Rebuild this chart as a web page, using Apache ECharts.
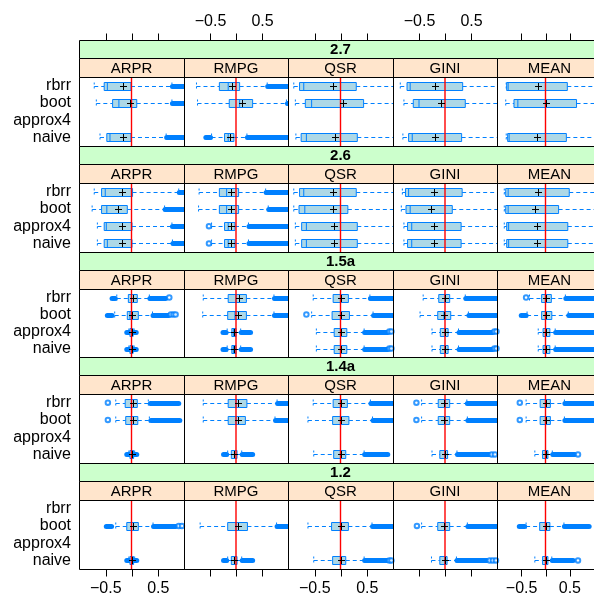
<!DOCTYPE html>
<html>
<head>
<meta charset="utf-8">
<script src="https://cdn.jsdelivr.net/npm/echarts@6/dist/echarts.min.js"></script>
<style>
  html, body { margin: 0; padding: 0; background: #fff; }
  #chart { width: 594px; height: 599px; }
</style>
</head>
<body>
<div id="chart"></div>
<script>
// Relative error of the estimators, by scenario (rows) and indicator (columns)
const methods = ['rbrr', 'boot', 'approx4', 'naive'];
const measures = ['ARPR', 'RMPG', 'QSR', 'GINI', 'MEAN'];
const levels = ['2.7', '2.6', '1.5a', '1.4a', '1.2'];
const tickValues = [-0.5, 0, 0.5];
const tickLabels = [-0.5, 0.5];
const refValue = 0;

// [indicator, method, lower whisker, Q1, median, Q3, upper whisker, mean]
const stats27 = [
  ['ARPR', 'rbrr', -0.71, -0.52, -0.46, -0.01, 0.77, -0.16],
  ['ARPR', 'boot', -0.67, -0.36, -0.24, 0.10, 0.77, -0.03],
  ['ARPR', 'naive', -0.60, -0.47, -0.41, -0.01, 0.66, -0.17],
  ['RMPG', 'rbrr', -0.76, -0.32, -0.15, 0.07, 0.60, -0.07],
  ['RMPG', 'boot', -0.74, -0.13, 0.07, 0.32, 0.97, 0.12],
  ['RMPG', 'naive', -0.47, -0.22, -0.15, -0.04, 0.21, -0.11],
  ['QSR', 'rbrr', -0.89, -0.78, -0.70, 0.30, 1.05, -0.14],
  ['QSR', 'boot', -0.86, -0.67, -0.55, 0.44, 1.05, 0.04],
  ['QSR', 'naive', -0.85, -0.75, -0.65, 0.32, 1.05, -0.11],
  ['GINI', 'rbrr', -0.86, -0.73, -0.67, 0.34, 1.05, -0.20],
  ['GINI', 'boot', -0.79, -0.61, -0.50, 0.39, 1.05, -0.07],
  ['GINI', 'naive', -0.81, -0.70, -0.63, 0.32, 1.05, -0.19],
  ['MEAN', 'rbrr', -0.81, -0.80, -0.77, 0.45, 1.05, -0.15],
  ['MEAN', 'boot', -0.82, -0.65, -0.57, 0.64, 1.05, 0.01],
  ['MEAN', 'naive', -0.81, -0.78, -0.75, 0.43, 1.05, -0.17]
];
const stats26 = [
  ['ARPR', 'rbrr', -0.71, -0.57, -0.50, 0.02, 0.90, -0.18],
  ['ARPR', 'boot', -0.75, -0.57, -0.47, -0.08, 0.63, -0.25],
  ['ARPR', 'approx4', -0.65, -0.52, -0.48, 0.01, 0.77, -0.19],
  ['ARPR', 'naive', -0.65, -0.52, -0.46, 0.01, 0.78, -0.19],
  ['RMPG', 'rbrr', -0.71, -0.32, -0.18, 0.05, 0.57, -0.09],
  ['RMPG', 'boot', -0.72, -0.32, -0.18, 0.05, 0.62, -0.09],
  ['RMPG', 'approx4', -0.47, -0.22, -0.15, -0.02, 0.24, -0.09],
  ['RMPG', 'naive', -0.47, -0.22, -0.15, -0.02, 0.24, -0.10],
  ['QSR', 'rbrr', -0.89, -0.78, -0.70, 0.30, 1.05, -0.14],
  ['QSR', 'boot', -0.89, -0.79, -0.68, 0.14, 1.05, -0.14],
  ['QSR', 'approx4', -0.86, -0.74, -0.65, 0.32, 1.05, -0.13],
  ['QSR', 'naive', -0.86, -0.74, -0.65, 0.32, 1.05, -0.13],
  ['GINI', 'rbrr', -0.82, -0.76, -0.70, 0.33, 1.05, -0.21],
  ['GINI', 'boot', -0.84, -0.75, -0.67, 0.14, 1.05, -0.27],
  ['GINI', 'approx4', -0.79, -0.72, -0.64, 0.31, 1.05, -0.21],
  ['GINI', 'naive', -0.79, -0.72, -0.64, 0.31, 1.05, -0.21],
  ['MEAN', 'rbrr', -0.85, -0.82, -0.77, 0.49, 1.05, -0.15],
  ['MEAN', 'boot', -0.85, -0.82, -0.77, 0.27, 1.05, -0.22],
  ['MEAN', 'approx4', -0.85, -0.80, -0.76, 0.46, 1.05, -0.17],
  ['MEAN', 'naive', -0.85, -0.80, -0.76, 0.46, 1.05, -0.17]
];
const stats15a = [
  ['ARPR', 'rbrr', -0.28, -0.06, 0.00, 0.11, 0.34, 0.03],
  ['ARPR', 'boot', -0.32, -0.08, -0.03, 0.13, 0.40, 0.00],
  ['ARPR', 'approx4', -0.05, -0.03, 0.00, 0.03, 0.05, 0.00],
  ['ARPR', 'naive', -0.05, -0.03, 0.00, 0.03, 0.05, 0.00],
  ['RMPG', 'rbrr', -0.63, -0.15, 0.00, 0.20, 0.73, 0.05],
  ['RMPG', 'boot', -0.64, -0.16, -0.02, 0.20, 0.73, 0.03],
  ['RMPG', 'approx4', -0.17, -0.08, -0.05, 0.00, 0.09, -0.03],
  ['RMPG', 'naive', -0.17, -0.08, -0.05, 0.00, 0.09, -0.03],
  ['QSR', 'rbrr', -0.52, -0.14, 0.00, 0.15, 0.56, 0.00],
  ['QSR', 'boot', -0.55, -0.16, 0.00, 0.17, 0.62, 0.00],
  ['QSR', 'approx4', -0.46, -0.12, 0.00, 0.12, 0.45, 0.00],
  ['QSR', 'naive', -0.46, -0.12, 0.00, 0.12, 0.45, 0.00],
  ['GINI', 'rbrr', -0.42, -0.12, 0.00, 0.09, 0.39, 0.00],
  ['GINI', 'boot', -0.48, -0.14, -0.02, 0.11, 0.45, -0.02],
  ['GINI', 'approx4', -0.25, -0.09, 0.00, 0.06, 0.26, 0.00],
  ['GINI', 'naive', -0.25, -0.09, 0.00, 0.06, 0.26, 0.00],
  ['MEAN', 'rbrr', -0.33, -0.08, 0.02, 0.12, 0.41, 0.02],
  ['MEAN', 'boot', -0.38, -0.08, 0.02, 0.13, 0.47, 0.02],
  ['MEAN', 'approx4', -0.15, -0.05, 0.02, 0.09, 0.20, 0.02],
  ['MEAN', 'naive', -0.15, -0.05, 0.02, 0.09, 0.20, 0.02]
];
const stats14a = [
  ['ARPR', 'rbrr', -0.30, -0.12, 0.00, 0.11, 0.32, 0.02],
  ['ARPR', 'boot', -0.30, -0.11, 0.00, 0.12, 0.34, 0.02],
  ['ARPR', 'naive', -0.05, -0.03, 0.00, 0.04, 0.06, 0.00],
  ['RMPG', 'rbrr', -0.63, -0.15, 0.00, 0.21, 0.79, 0.04],
  ['RMPG', 'boot', -0.63, -0.15, 0.00, 0.18, 0.75, 0.03],
  ['RMPG', 'naive', -0.16, -0.09, -0.03, 0.02, 0.11, -0.03],
  ['QSR', 'rbrr', -0.52, -0.14, 0.00, 0.13, 0.57, 0.00],
  ['QSR', 'boot', -0.62, -0.15, 0.00, 0.16, 0.61, 0.00],
  ['QSR', 'naive', -0.51, -0.13, 0.00, 0.10, 0.45, 0.00],
  ['GINI', 'rbrr', -0.45, -0.13, 0.00, 0.09, 0.42, -0.01],
  ['GINI', 'boot', -0.45, -0.13, 0.00, 0.09, 0.43, -0.01],
  ['GINI', 'naive', -0.25, -0.10, 0.00, 0.05, 0.23, 0.00],
  ['MEAN', 'rbrr', -0.40, -0.11, 0.00, 0.10, 0.39, 0.00],
  ['MEAN', 'boot', -0.40, -0.11, 0.00, 0.10, 0.39, 0.00],
  ['MEAN', 'naive', -0.22, -0.06, 0.00, 0.05, 0.14, 0.00]
];
const stats12 = [
  ['ARPR', 'boot', -0.30, -0.09, 0.00, 0.13, 0.41, 0.03],
  ['ARPR', 'naive', -0.05, -0.03, 0.00, 0.04, 0.06, 0.00],
  ['RMPG', 'boot', -0.69, -0.16, 0.00, 0.22, 0.78, 0.03],
  ['RMPG', 'naive', -0.16, -0.09, -0.03, 0.02, 0.11, -0.03],
  ['QSR', 'boot', -0.62, -0.17, 0.00, 0.15, 0.60, 0.00],
  ['QSR', 'naive', -0.51, -0.15, 0.00, 0.10, 0.45, 0.00],
  ['GINI', 'boot', -0.45, -0.14, 0.00, 0.09, 0.43, -0.02],
  ['GINI', 'naive', -0.26, -0.10, 0.00, 0.04, 0.22, 0.00],
  ['MEAN', 'boot', -0.40, -0.12, 0.00, 0.09, 0.38, 0.00],
  ['MEAN', 'naive', -0.22, -0.06, 0.00, 0.05, 0.13, 0.00]
];

// Runs of outliers too dense to tell apart: [indicator, method, from, to]
const bands27 = [
  ['ARPR', 'rbrr', 0.78, 1.05], ['ARPR', 'boot', 0.78, 1.05], ['ARPR', 'naive', 0.67, 1.05],
  ['RMPG', 'rbrr', 0.61, 1.05], ['RMPG', 'boot', 0.99, 1.05],
  ['RMPG', 'naive', -0.58, -0.49], ['RMPG', 'naive', 0.22, 1.05]
];
const bands26 = [
  ['ARPR', 'rbrr', 0.91, 1.05], ['ARPR', 'boot', 0.64, 1.05],
  ['ARPR', 'approx4', 0.78, 1.05], ['ARPR', 'naive', 0.79, 1.05],
  ['RMPG', 'rbrr', 0.58, 1.05], ['RMPG', 'boot', 0.63, 1.05],
  ['RMPG', 'approx4', 0.25, 1.05], ['RMPG', 'naive', 0.25, 1.05]
];
const bands15a = [
  ['ARPR', 'rbrr', -0.37, -0.31], ['ARPR', 'rbrr', 0.35, 0.65],
  ['ARPR', 'boot', -0.46, -0.37], ['ARPR', 'boot', 0.41, 0.71],
  ['ARPR', 'approx4', -0.09, 0.09], ['ARPR', 'naive', -0.09, 0.09],
  ['RMPG', 'rbrr', 0.74, 1.05], ['RMPG', 'boot', 0.74, 1.05],
  ['RMPG', 'approx4', -0.25, -0.19], ['RMPG', 'approx4', 0.10, 0.28],
  ['RMPG', 'naive', -0.25, -0.19], ['RMPG', 'naive', 0.10, 0.28],
  ['QSR', 'rbrr', 0.57, 1.05], ['QSR', 'boot', 0.63, 1.05],
  ['QSR', 'approx4', 0.46, 0.90], ['QSR', 'naive', 0.46, 0.90],
  ['GINI', 'rbrr', 0.40, 1.05], ['GINI', 'boot', 0.46, 1.05],
  ['GINI', 'approx4', 0.27, 0.92], ['GINI', 'naive', 0.27, 0.92],
  ['MEAN', 'rbrr', 0.42, 1.05], ['MEAN', 'boot', -0.50, -0.40], ['MEAN', 'boot', 0.48, 1.05],
  ['MEAN', 'approx4', 0.21, 1.05], ['MEAN', 'naive', 0.21, 1.05]
];
const bands14a = [
  ['ARPR', 'rbrr', 0.36, 0.90], ['ARPR', 'boot', 0.37, 0.92], ['ARPR', 'naive', -0.09, 0.10],
  ['RMPG', 'rbrr', 0.80, 1.05], ['RMPG', 'boot', 0.76, 1.05],
  ['RMPG', 'naive', -0.24, -0.18], ['RMPG', 'naive', 0.12, 0.32],
  ['QSR', 'rbrr', 0.58, 1.05], ['QSR', 'boot', 0.62, 1.05], ['QSR', 'naive', 0.46, 0.90],
  ['GINI', 'rbrr', 0.43, 1.05], ['GINI', 'boot', 0.44, 1.05], ['GINI', 'naive', 0.24, 0.85],
  ['MEAN', 'rbrr', 0.40, 1.05], ['MEAN', 'boot', 0.40, 1.05], ['MEAN', 'naive', 0.15, 0.60]
];
const bands12 = [
  ['ARPR', 'boot', -0.48, -0.38], ['ARPR', 'boot', 0.42, 0.84], ['ARPR', 'naive', -0.09, 0.10],
  ['RMPG', 'boot', 0.79, 1.05], ['RMPG', 'naive', -0.24, -0.18], ['RMPG', 'naive', 0.12, 0.32],
  ['QSR', 'boot', 0.61, 1.05], ['QSR', 'naive', 0.46, 0.90],
  ['GINI', 'boot', 0.44, 1.05], ['GINI', 'naive', 0.23, 0.80],
  ['MEAN', 'boot', -0.54, -0.43], ['MEAN', 'boot', 0.39, 0.90], ['MEAN', 'naive', 0.14, 0.57]
];

// Isolated outliers: [indicator, method, value]
const points27 = [];
const points26 = [['RMPG', 'approx4', -0.52], ['RMPG', 'naive', -0.52]];
const points15a = [
  ['ARPR', 'rbrr', 0.72], ['ARPR', 'boot', 0.75], ['ARPR', 'boot', 0.80], ['ARPR', 'boot', 0.84],
  ['QSR', 'boot', -0.65], ['QSR', 'approx4', 0.93], ['QSR', 'approx4', 0.97],
  ['QSR', 'naive', 0.93], ['QSR', 'naive', 0.97],
  ['GINI', 'approx4', 0.95], ['GINI', 'approx4', 0.99], ['GINI', 'naive', 0.95], ['GINI', 'naive', 0.99],
  ['MEAN', 'rbrr', -0.40]
];
const points14a = [
  ['ARPR', 'rbrr', -0.45], ['ARPR', 'boot', -0.45],
  ['GINI', 'rbrr', -0.55], ['GINI', 'boot', -0.55], ['GINI', 'naive', 0.90], ['GINI', 'naive', 0.96],
  ['MEAN', 'rbrr', -0.53], ['MEAN', 'boot', -0.53], ['MEAN', 'naive', 0.67]
];
const points12 = [
  ['ARPR', 'boot', 0.90], ['ARPR', 'boot', 0.96],
  ['QSR', 'naive', 0.93], ['QSR', 'naive', 0.97],
  ['GINI', 'boot', -0.54], ['GINI', 'naive', 0.86], ['GINI', 'naive', 0.92], ['GINI', 'naive', 0.98],
  ['MEAN', 'naive', 0.67]
];

const statsByLevel = { '2.7': stats27, '2.6': stats26, '1.5a': stats15a, '1.4a': stats14a, '1.2': stats12 };
const bandsByLevel = { '2.7': bands27, '2.6': bands26, '1.5a': bands15a, '1.4a': bands14a, '1.2': bands12 };
const pointsByLevel = { '2.7': points27, '2.6': points26, '1.5a': points15a, '1.4a': points14a, '1.2': points12 };

// ---- layout and style ----
const FONT = '"Liberation Sans", Arial, Helvetica, sans-serif';
const BLUE = '#0080ff';
const FILL = '#add8e6';
const X0 = 79, COLW = 104.6, Y0 = 40, ROWH = 105.8, STRIP1 = 18, STRIP2 = 19;
const colLeft = c => Math.round(X0 + c * COLW);
const rowTop = r => Math.round(Y0 + r * ROWH);

function renderBox(params, api) {
  const m = api.value(0);
  const xs = [1, 2, 3, 4, 5].map(i => api.coord([api.value(i), m])[0]);
  const yc = Math.round(api.coord([0, m])[1]) + 0.5;
  const hb = 4, cap = 4;
  const dashed = { stroke: BLUE, lineWidth: 1, lineDash: [4, 3], fill: null };
  const capStyle = { stroke: BLUE, lineWidth: 1, lineDash: [2, 2], fill: null };
  return {
    type: 'group',
    children: [
      { type: 'line', shape: { x1: xs[0], y1: yc, x2: xs[1], y2: yc }, style: dashed },
      { type: 'line', shape: { x1: xs[3], y1: yc, x2: xs[4], y2: yc }, style: dashed },
      { type: 'line', shape: { x1: xs[0], y1: yc - cap, x2: xs[0], y2: yc + cap }, style: capStyle },
      { type: 'line', shape: { x1: xs[4], y1: yc - cap, x2: xs[4], y2: yc + cap }, style: capStyle },
      { type: 'rect', shape: { x: xs[1], y: yc - hb, width: xs[3] - xs[1], height: 2 * hb },
        style: { fill: FILL, stroke: BLUE, lineWidth: 1 } },
      { type: 'line', shape: { x1: xs[2], y1: yc - hb, x2: xs[2], y2: yc + hb },
        style: { stroke: BLUE, lineWidth: 1 } }
    ]
  };
}

function renderBand(params, api) {
  const m = api.value(0);
  const a = api.coord([api.value(1), m]);
  const b = api.coord([api.value(2), m]);
  const y = Math.round(a[1]) + 0.5;
  return {
    type: 'line',
    shape: { x1: a[0], y1: y, x2: b[0], y2: y },
    style: { stroke: BLUE, lineWidth: 5, lineCap: 'round' }
  };
}

function renderMean(params, api) {
  const p = api.coord([api.value(1), api.value(0)]);
  const x = Math.round(p[0]) + 0.5, y = Math.round(p[1]) + 0.5;
  const s = 3.5;
  return {
    type: 'group',
    children: [
      { type: 'line', shape: { x1: x - s, y1: y, x2: x + s, y2: y }, style: { stroke: '#000', lineWidth: 1 } },
      { type: 'line', shape: { x1: x, y1: y - s, x2: x, y2: y + s }, style: { stroke: '#000', lineWidth: 1 } }
    ]
  };
}

function renderRef(params, api) {
  const x = api.coord([api.value(0), 0])[0];
  const cs = params.coordSys;
  return {
    type: 'line',
    shape: { x1: x, y1: cs.y, x2: x, y2: cs.y + cs.height },
    style: { stroke: '#ff0000', lineWidth: 1.4 }
  };
}

const grids = [], xAxes = [], yAxes = [], series = [], graphics = [];

levels.forEach((lev, r) => {
  const top = rowTop(r);
  const left = colLeft(0), right = colLeft(measures.length);
  // outer strip with the scenario name
  graphics.push({
    type: 'rect', z: 5,
    shape: { x: left + 0.5, y: top + 0.5, width: right - left, height: STRIP1 },
    style: { fill: '#ccffcc', stroke: '#000', lineWidth: 1 }
  });
  graphics.push({
    type: 'text', z: 6,
    x: (left + right) / 2, y: top + STRIP1 / 2 + 1,
    style: { text: lev, font: 'bold 15px ' + FONT, fill: '#000',
             textAlign: 'center', textVerticalAlign: 'middle', verticalAlign: 'middle' }
  });

  measures.forEach((meas, c) => {
    const gl = colLeft(c), gr = colLeft(c + 1);
    const stripTop = top + STRIP1;
    const panelTop = stripTop + STRIP2;
    const panelBottom = rowTop(r + 1);
    // inner strip with the indicator name
    graphics.push({
      type: 'rect', z: 5,
      shape: { x: gl + 0.5, y: stripTop + 0.5, width: gr - gl, height: STRIP2 },
      style: { fill: '#ffe5cc', stroke: '#000', lineWidth: 1 }
    });
    graphics.push({
      type: 'text', z: 6,
      x: (gl + gr) / 2, y: stripTop + STRIP2 / 2 + 1,
      style: { text: meas, font: '15px ' + FONT, fill: '#000',
               textAlign: 'center', textVerticalAlign: 'middle', verticalAlign: 'middle' }
    });
    // panel frame
    graphics.push({
      type: 'rect', z: 50, silent: true,
      shape: { x: gl + 0.5, y: panelTop + 0.5, width: gr - gl, height: panelBottom - panelTop },
      style: { fill: null, stroke: '#000', lineWidth: 1 }
    });

    const gi = grids.length;
    grids.push({ left: gl, top: panelTop, width: gr - gl, height: panelBottom - panelTop, show: false });
    xAxes.push({ gridIndex: gi, type: 'value', min: -1, max: 1, show: false });
    yAxes.push({
      gridIndex: gi, type: 'category', data: methods, inverse: true,
      axisLine: { show: false }, axisTick: { show: false }, splitLine: { show: false },
      axisLabel: { show: c === 0, interval: 0, fontSize: 16, fontFamily: FONT, color: '#000', margin: 8 }
    });

    const mi = name => methods.indexOf(name);
    const stats = statsByLevel[lev].filter(d => d[0] === meas);
    const bands = bandsByLevel[lev].filter(d => d[0] === meas);
    const pts = pointsByLevel[lev].filter(d => d[0] === meas);

    series.push({
      type: 'custom', xAxisIndex: gi, yAxisIndex: gi, clip: true, z: 2,
      renderItem: renderBand, encode: { x: [1, 2], y: 0 },
      data: bands.map(d => [mi(d[1]), d[2], d[3]])
    });
    series.push({
      type: 'scatter', xAxisIndex: gi, yAxisIndex: gi, clip: true, z: 2,
      symbol: 'emptyCircle', symbolSize: 4.5,
      itemStyle: { color: BLUE, borderColor: BLUE, borderWidth: 1 },
      data: pts.map(d => [d[2], mi(d[1])])
    });
    series.push({
      type: 'custom', xAxisIndex: gi, yAxisIndex: gi, clip: true, z: 3,
      renderItem: renderBox, encode: { x: [1, 2, 3, 4, 5], y: 0 },
      data: stats.map(d => [mi(d[1]), d[2], d[3], d[4], d[5], d[6]])
    });
    series.push({
      type: 'custom', xAxisIndex: gi, yAxisIndex: gi, clip: true, z: 4,
      renderItem: renderRef, encode: { x: 0, y: 1 },
      data: [[refValue, 0]]
    });
    series.push({
      type: 'custom', xAxisIndex: gi, yAxisIndex: gi, clip: true, z: 5,
      renderItem: renderMean, encode: { x: 1, y: 0 },
      data: stats.map(d => [mi(d[1]), d[7]])
    });
  });
});

// shared scales along the top and bottom of every column
const fmt = v => (v < 0 ? '\u2212' : '') + Math.abs(v).toFixed(1);
measures.forEach((meas, c) => {
  const gi = grids.length;
  const gl = colLeft(c), gr = colLeft(c + 1);
  grids.push({ left: gl + 0.5, top: rowTop(0) + 0.5, width: gr - gl, height: rowTop(levels.length) - rowTop(0), show: false });
  ['bottom', 'top'].forEach((pos, k) => {
    xAxes.push({
      gridIndex: gi, type: 'value', position: pos, min: -1, max: 1,
      axisLine: { show: false }, splitLine: { show: false },
      axisTick: { show: true, inside: false, length: 7, customValues: tickValues,
                  lineStyle: { color: '#000', width: 1 } },
      axisLabel: { show: (c % 2 === 0) === (k === 0), customValues: tickLabels, formatter: fmt,
                   fontSize: 16, fontFamily: FONT, color: '#000', margin: 11 }
    });
  });
  yAxes.push({ gridIndex: gi, type: 'value', show: false });
});

const chart = echarts.init(document.getElementById('chart'), null, { renderer: 'canvas' });
chart.setOption({
  animation: false,
  backgroundColor: '#fff',
  textStyle: { fontFamily: FONT },
  grid: grids,
  xAxis: xAxes,
  yAxis: yAxes,
  series: series,
  graphic: graphics
});
</script>
</body>
</html>
